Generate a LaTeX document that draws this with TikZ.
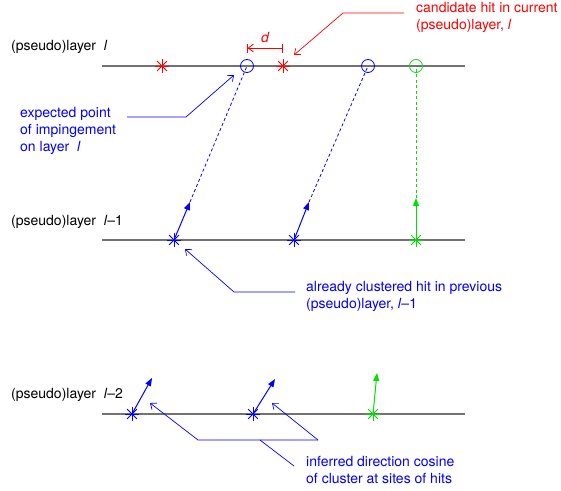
\documentclass[tikz,border=0pt]{standalone}
\usepackage{fontspec}
\setmainfont{TeX Gyre Heros}
\usepackage{tikz}
\usetikzlibrary{arrows.meta,positioning}

\definecolor{hitred}{RGB}{255,0,0}
\definecolor{hitblue}{RGB}{0,0,255}
\definecolor{hitgreen}{RGB}{0,225,0}

\tikzset{
  hit/.style={circle, minimum size=14pt, inner sep=0pt, path picture={
      \foreach \a in {0,45,90,135}
        \draw[#1, line width=0.8pt]
          ([shift={(\a:7pt)}]path picture bounding box.center) --
          ([shift={(\a+180:7pt)}]path picture bounding box.center);}},
  expt/.style={circle, draw=#1, line width=0.8pt, minimum size=13pt, inner sep=0pt},
  layer/.style={draw=black!55, line width=1.8pt},
  dir/.style={#1, line width=1pt, -{Triangle[length=8pt,width=6pt]}},
  proj/.style={#1, line width=0.8pt, dash pattern=on 3pt off 2.5pt},
  lead/.style={#1, line width=0.7pt, -{Straight Barb[length=5pt,width=8pt]}},
  txt/.style={text=#1, align=left, inner sep=0pt, anchor=west,
    font=\fontsize{14}{17}\selectfont}
}

\begin{document}
\begin{tikzpicture}[x=1pt, y=-1pt]
        \useasboundingbox (0,0) rectangle (561,490);

        % the three (pseudo)layers
        \coordinate (L0a) at (102,66);  \coordinate (L0b) at (465,66);
        \coordinate (L1a) at (102,240); \coordinate (L1b) at (465,240);
        \coordinate (L2a) at (102,414); \coordinate (L2b) at (465,414);
        \draw[layer] (L0a) -- (L0b);
        \draw[layer] (L1a) -- (L1b);
        \draw[layer] (L2a) -- (L2b);

        \node[txt=black] (N0) at (11,47)  {(pseudo)layer\ \ \textit{l}};
        \node[txt=black] (N1) at (11,222) {(pseudo)layer\ \ \textit{l}–1};
        \node[txt=black] (N2) at (11,395) {(pseudo)layer\ \ \textit{l}–2};

        % layer l
        \node[hit=hitred] (C1) at (162,66) {};
        \node[expt=hitblue] (E1) at (247,66) {};
        \node[hit=hitred] (C2) at (283,66) {};
        \node[expt=hitblue] (E2) at (368,66) {};
        \node[expt=hitgreen] (E3) at (416,66) {};

        % layer l-1
        \node[hit=hitblue] (P1) at (174,240) {};
        \node[hit=hitblue] (P2) at (294,240) {};
        \node[hit=hitgreen] (P3) at (416,240) {};
        \coordinate (T1) at (190,202);
        \coordinate (T2) at (309,202);
        \coordinate (T3) at (416,198);

        \draw[dir=hitblue] (P1.center) -- (T1);
        \draw[dir=hitblue] (P2.center) -- (T2);
        \draw[dir=hitgreen] (P3.center) -- (T3);
        \draw[proj=hitblue] (T1) -- (E1.center);
        \draw[proj=hitblue] (T2) -- (E2.center);
        \draw[proj=hitgreen] (T3) -- (E3.center);

        % layer l-2
        \node[hit=hitblue] (Q1) at (132,414) {};
        \node[hit=hitblue] (Q2) at (253,414) {};
        \node[hit=hitgreen] (Q3) at (373,414) {};
        \coordinate (U1) at (152,378);
        \coordinate (U2) at (275,379);
        \coordinate (U3) at (377,373);

        \draw[dir=hitblue] (Q1.center) -- (U1);
        \draw[dir=hitblue] (Q2.center) -- (U2);
        \draw[dir=hitgreen] (Q3.center) -- (U3);

        % distance d
        \coordinate (Da) at (247,48);
        \coordinate (Db) at (283,48);
        \draw[hitred, line width=0.8pt, {Bar[width=9pt]Straight Barb[length=5pt,width=8pt]}-{Bar[width=9pt]}] (Da) -- (Db);
        \node[text=hitred, inner sep=0pt, font=\fontsize{14}{17}\selectfont\itshape] (D) at (265,37) {d};

        % candidate hit
        \node[txt=hitred] (cand) at (416,17) {candidate hit in current\\(pseudo)layer, \textit{l}};
        \coordinate (ca) at (404,13);
        \coordinate (cb) at (343,13);
        \coordinate (cc) at (294,55);
        \draw[lead=hitred] (ca) -- (cb) -- (cc);

        % expected point
        \node[txt=hitblue] (expt) at (20,131) {expected point\\of impingement\\on layer\ \ \textit{l}};
        \coordinate (ea) at (127,117);
        \coordinate (eb) at (186,117);
        \coordinate (ec) at (234,75);
        \draw[lead=hitblue] (ea) -- (eb) -- (ec);

        % already clustered
        \node[txt=hitblue] (alr) at (306,296) {already clustered hit in previous\\(pseudo)layer, \textit{l}–1};
        \coordinate (aa) at (295,292);
        \coordinate (ab) at (234,292);
        \coordinate (ac) at (185,249);
        \draw[lead=hitblue] (aa) -- (ab) -- (ac);

        % inferred direction
        \node[txt=hitblue] (inf) at (306,470) {inferred direction cosine\\of cluster at sites of hits};
        \coordinate (ia) at (294,466);
        \coordinate (ib) at (260,440);
        \coordinate (ic) at (318,440);
        \coordinate (id) at (198,440);
        \coordinate (ie) at (150,403);
        \coordinate (if) at (272,403);
        \draw[hitblue, line width=0.7pt] (ia) -- (ib);
        \draw[lead=hitblue] (ic) -- (id) -- (ie);
        \draw[lead=hitblue] (ic) -- (if);
\end{tikzpicture}
\end{document}
